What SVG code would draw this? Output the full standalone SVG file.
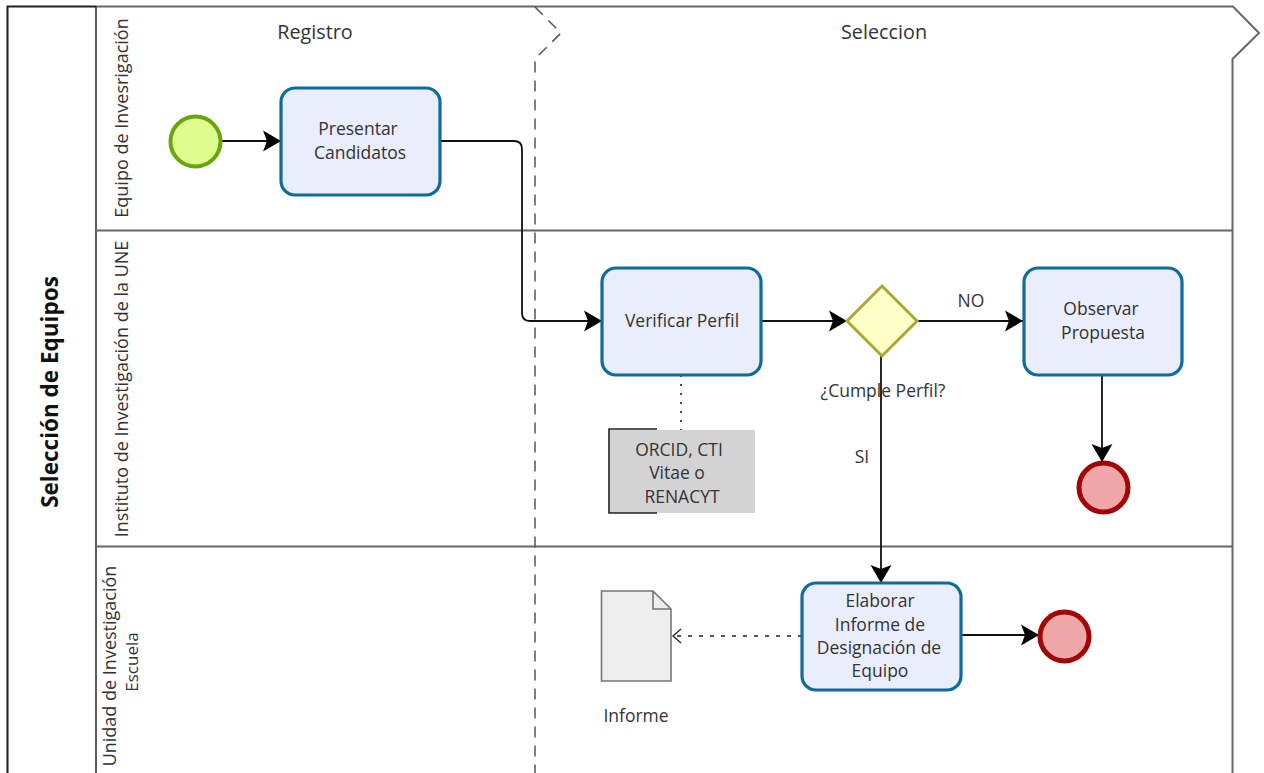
<svg xmlns="http://www.w3.org/2000/svg" width="1264" height="773" viewBox="0 0 1264 773">
<style>
text{font-family:"Open Sans","Noto Sans",sans-serif;font-size:17.5px;fill:#333;text-anchor:middle}
.h{font-size:19.8px}
.v{font-size:18px}
.lane{fill:none;stroke:#666;stroke-width:2}
.task{fill:#e9edfc;stroke:#0f6b9c;stroke-width:3.2}
.end{fill:#eea6a8;stroke:#a00606;stroke-width:5}
.c{fill:none;stroke:#111;stroke-width:1.8}
</style>
<defs>
<marker id="arr" markerUnits="userSpaceOnUse" markerWidth="22" markerHeight="24" refX="19" refY="12" orient="auto"><path d="M1 1.500 L19 12 L1 22.500 L5 12 Z" fill="#000"/></marker>
<marker id="open" markerUnits="userSpaceOnUse" markerWidth="14" markerHeight="20" refX="10" refY="10" orient="auto"><path d="M2 3 L10 10 L2 17" fill="none" stroke="#222" stroke-width="1.3"/></marker>
</defs>
<rect width="1264" height="773" fill="#fff"/>
<g id="pool">
<path d="M7.5 773V6.5H1233L1259 33L1232.5 59V773" class="lane"/>
<path d="M7.5 773V6.5H96" fill="none" stroke="#222" stroke-width="1.6"/>
<path d="M96 6.5V773" fill="none" stroke="#333" stroke-width="1.6"/>
<path d="M96 230.5H1232M96 546.5H1232" class="lane"/>
<path d="M535 7L561 33L535 59V773" fill="none" stroke="#555" stroke-width="1.5" stroke-dasharray="11 8"/>
<text transform="translate(58 392) rotate(-90)" style="font-weight:700;font-size:22.5px;fill:#111">Selección de Equipos</text>
<text class="v" transform="translate(128 118) rotate(-90)">Equipo de Invesrigación</text>
<text class="v" transform="translate(128 389) rotate(-90)">Instituto de Investigación de la UNE</text>
<text class="v" transform="translate(116 666) rotate(-90)">Unidad de Investigación</text>
<text class="v" transform="translate(138 662) rotate(-90)" style="font-size:17px">Escuela</text>
<text class="h" x="315" y="39">Registro</text>
<text class="h" x="884" y="39">Seleccion</text>
</g>
<g id="connectors">
<path class="c" d="M221 141H281" marker-end="url(#arr)"/>
<path class="c" d="M440 141H514Q522 141 522 149V313Q522 321 530 321H602" marker-end="url(#arr)"/>
<path class="c" d="M761 321H847" marker-end="url(#arr)"/>
<path class="c" d="M917 321H1023" marker-end="url(#arr)"/>
<path class="c" d="M1102 375V462" marker-end="url(#arr)"/>
<path class="c" d="M881 356V583" marker-end="url(#arr)"/>
<path class="c" d="M961 635H1039" marker-end="url(#arr)"/>
<path d="M681 375V430" fill="none" stroke="#222" stroke-width="1.6" stroke-dasharray="2 7"/>
<path d="M802 636H673" fill="none" stroke="#222" stroke-width="1.6" stroke-dasharray="4 7" marker-end="url(#open)"/>
<text x="971" y="307">NO</text>
<text x="862" y="463">SI</text>
</g>
<g id="start"><circle cx="195.500" cy="141.500" r="25" fill="#e0fd90" stroke="#6aa50f" stroke-width="4"/></g>
<g id="task-presentar"><rect class="task" x="281" y="88" width="159" height="107" rx="14"/>
<text x="358" y="135">Presentar</text><text x="360" y="159">Candidatos</text></g>
<g id="task-verificar"><rect class="task" x="602" y="268" width="159" height="107" rx="14"/>
<text x="682" y="327">Verificar Perfil</text></g>
<g id="gateway"><path d="M882 286L917 321L882 356L847 321Z" fill="#ffffc8" stroke="#aaaa33" stroke-width="3"/>
<text x="883" y="397">¿Cumple Perfil?</text></g>
<g id="task-observar"><rect class="task" x="1024" y="268" width="158" height="107" rx="14"/>
<text x="1101" y="315">Observar</text><text x="1103" y="339">Propuesta</text></g>
<g id="end-observar"><circle class="end" cx="1103.500" cy="487.500" r="24.500"/></g>
<g id="annotation"><rect x="609" y="430" width="146" height="83" fill="#d3d3d3"/>
<path d="M657 429H609V513H657" fill="none" stroke="#222" stroke-width="1.6"/>
<text x="679" y="456">ORCID, CTI</text><text x="677" y="479">Vitae o</text><text x="682" y="503">RENACYT</text></g>
<g id="task-elaborar"><rect class="task" x="802" y="583" width="159" height="107" rx="14"/>
<text x="880" y="607">Elaborar</text><text x="880" y="631">Informe de</text><text x="879" y="654">Designación de</text><text x="880" y="677">Equipo</text></g>
<g id="end-elaborar"><circle class="end" cx="1064.500" cy="636.500" r="24.500"/></g>
<g id="document"><path d="M601.500 591H653L671 609V681H601.500Z" fill="#eee" stroke="#777" stroke-width="1.6"/>
<path d="M653 591V609H671" fill="none" stroke="#777" stroke-width="1.6"/>
<text x="636" y="722">Informe</text></g>
</svg>
